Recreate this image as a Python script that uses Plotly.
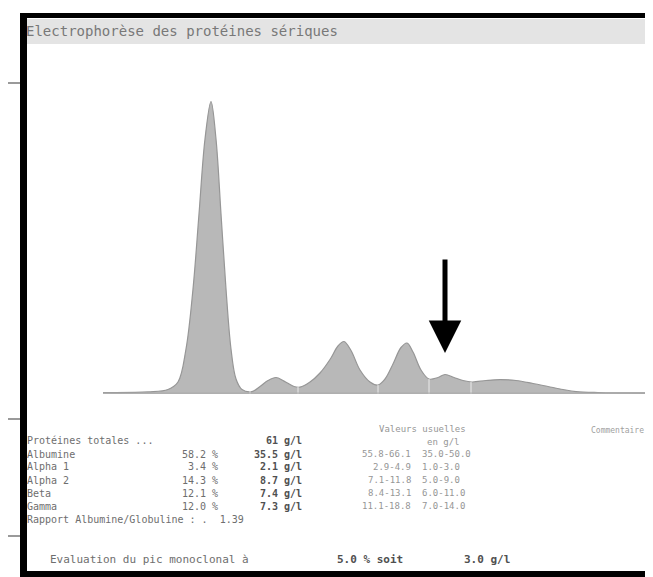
import numpy as np
import plotly.graph_objects as go

W, H = 653, 577

# densitometric curve (mobility position, relative intensity)
mobility = [95, 140, 160, 170, 178, 185, 191, 197, 203, 208, 213, 218, 223, 228, 234,
            244, 252, 260, 268, 276, 286, 292, 302, 312, 322, 330, 336, 343, 352, 362,
            370, 377, 385, 393, 399, 405, 413, 421, 430, 437, 446, 455, 464, 478, 492,
            508, 525, 540, 555, 568, 590, 653]
intensity = [0.5, 0.7, 1.5, 4, 15, 35, 60, 85, 97.5, 85, 60, 35, 15, 5, 1.5,
             0.8, 2.5, 4.5, 5.5, 4.3, 2.5, 2.3, 4, 7, 11.5, 16, 17.5, 14.5, 8, 4,
             3, 5, 10, 15.5, 17, 14, 8, 5, 5.5, 6.5, 5.5, 4.5, 4, 4.5, 4.8,
             4.5, 3.5, 2.5, 1.5, 0.8, 0.5, 0.4]
boundaries = [242, 290, 370, 421, 463]
arrow_x, arrow_tip, arrow_tail = 437, 13.7, 45.3

title = "Electrophorèse des protéines sériques"
fractions = ["Albumine", "Alpha 1", "Alpha 2", "Beta", "Gamma"]
percents = ["58.2 %", "3.4 %", "14.3 %", "12.1 %", "12.0 %"]
grams = ["35.5", "2.1", "8.7", "7.4", "7.3"]
ref_pct = ["55.8-66.1", "2.9-4.9", "7.1-11.8", "8.4-13.1", "11.1-18.8"]
ref_gl = ["35.0-50.0", "1.0-3.0", "5.0-9.0", "6.0-11.0", "7.0-14.0"]
total = "61"
ratio = "1.39"
mono_pct, mono_gl = "5.0 % soit", "3.0 g/l"

fig = go.Figure()
fig.add_trace(go.Scatter(x=mobility, y=intensity, mode="lines", line_shape="spline",
                         fill="tozeroy", fillcolor="rgb(184,184,184)",
                         line=dict(color="rgb(150,150,150)", width=1.2),
                         hoverinfo="skip", showlegend=False))
# fraction separators
for b in boundaries:
    fig.add_trace(go.Scatter(x=[b, b], y=[0, float(np.interp(b, mobility, intensity))],
                             mode="lines", line=dict(color="rgb(235,235,235)", width=1),
                             hoverinfo="skip", showlegend=False))
# baseline
fig.add_trace(go.Scatter(x=[mobility[0], mobility[-1]], y=[0.3, 0.3], mode="lines",
                         line=dict(color="rgb(170,170,170)", width=1),
                         hoverinfo="skip", showlegend=False))

fig.add_annotation(x=arrow_x, y=arrow_tip, ax=arrow_x, ay=arrow_tail, xref="x", yref="y",
                   axref="x", ayref="y", showarrow=True, arrowhead=2, arrowsize=1.3,
                   arrowwidth=5, arrowcolor="black", text="")

def px(x):
    return x / W

def py(y):
    return 1 - y / H

shapes = [
    dict(type="rect", x0=px(19), x1=px(642), y0=py(36), y1=py(11), xref="paper", yref="paper",
         fillcolor="rgb(228,228,228)", line=dict(width=0), layer="below"),
    dict(type="line", x0=px(640), x1=px(640), y0=py(36), y1=py(560), xref="paper", yref="paper",
         line=dict(color="rgb(225,225,225)", width=1)),
    dict(type="rect", x0=px(12), x1=px(19), y0=py(570), y1=py(5), xref="paper", yref="paper",
         fillcolor="black", line=dict(width=0)),
    dict(type="rect", x0=px(12), x1=px(653), y0=py(10), y1=py(5), xref="paper", yref="paper",
         fillcolor="black", line=dict(width=0)),
    dict(type="rect", x0=px(12), x1=px(653), y0=py(569), y1=py(563), xref="paper", yref="paper",
         fillcolor="black", line=dict(width=0)),
    dict(type="line", x0=0, x1=px(12), y0=py(75), y1=py(75), xref="paper", yref="paper",
         line=dict(color="rgb(120,120,120)", width=1.5)),
    dict(type="line", x0=0, x1=px(12), y0=py(411), y1=py(411), xref="paper", yref="paper",
         line=dict(color="rgb(120,120,120)", width=1.5)),
    dict(type="line", x0=0, x1=px(12), y0=py(528), y1=py(528), xref="paper", yref="paper",
         line=dict(color="rgb(120,120,120)", width=1.5)),
    dict(type="rect", x0=px(20), x1=px(653), y0=py(577), y1=py(571), xref="paper", yref="paper",
         fillcolor="rgb(90,90,90)", line=dict(width=0)),
]

mono = "DejaVu Sans Mono"
grey = "rgb(110,110,110)"
DX = -8

def txt(x, y, s, size=10, color=grey, anchor="left", bold=False):
    if bold:
        s = "<b>" + s + "</b>"
    off = DX if anchor == "left" else (DX + 8 if anchor == "right" else 0)
    fig.add_annotation(x=px(x + off), y=py(y), xref="paper", yref="paper", text=s, showarrow=False,
                       xanchor=anchor, yanchor="middle",
                       font=dict(family=mono, size=size, color=color))

txt(24, 23, title, size=14, color="rgb(120,120,120)")
txt(25, 432, "Protéines totales ...")
txt(272, 432, total, anchor="right", bold=True, color="rgb(80,80,80)")
txt(282, 432, "g/l", bold=True, color="rgb(80,80,80)")
row_y = [446, 459, 472, 485, 498]
for yy, f, p, g, rp, rg in zip(row_y, fractions, percents, grams, ref_pct, ref_gl):
    txt(25, yy, f)
    txt(212, yy, p, anchor="right")
    txt(272, yy, g, anchor="right", bold=True, color="rgb(80,80,80)")
    txt(282, yy, "g/l", bold=True, color="rgb(80,80,80)")
    txt(405, yy, rp, size=9, color="rgb(150,150,150)", anchor="right")
    txt(420, yy, rg, size=9, color="rgb(150,150,150)")
txt(25, 511, "Rapport Albumine/Globuline : .  " + ratio)
txt(415, 421, "Valeurs usuelles", size=9, color="rgb(150,150,150)", anchor="center")
txt(435, 434, "en g/l", size=9, color="rgb(150,150,150)", anchor="center")
txt(638, 422, "Commentaire", size=8, color="rgb(160,160,160)", anchor="right")
txt(48, 551, "Evaluation du pic monoclonal à", size=11)
txt(335, 551, mono_pct, size=11, bold=True, color="rgb(80,80,80)")
txt(462, 551, mono_gl, size=11, bold=True, color="rgb(80,80,80)")

fig.update_layout(
    width=W, height=H, margin=dict(l=0, r=0, t=0, b=0),
    paper_bgcolor="white", plot_bgcolor="rgba(0,0,0,0)",
    shapes=shapes, showlegend=False,
    xaxis=dict(range=[0, W], domain=[0, 1], visible=False, fixedrange=True),
    yaxis=dict(range=[0, 100], domain=[1 - 386 / H, 1 - 86 / H], visible=False, fixedrange=True),
)
fig.write_html("out.html")
